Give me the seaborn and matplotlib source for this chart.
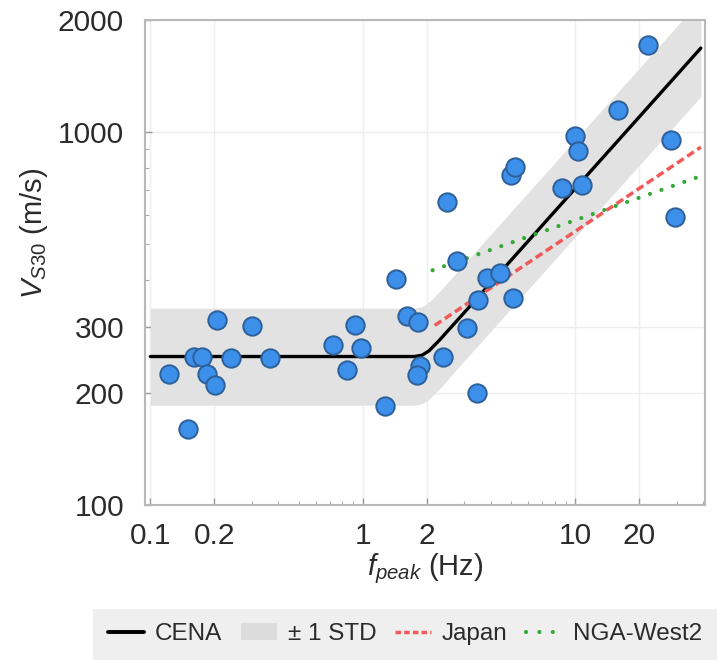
import numpy as np
import pandas as pd
import matplotlib
matplotlib.use("Agg")
import matplotlib.pyplot as plt
import seaborn as sns
from matplotlib.lines import Line2D
from matplotlib.patches import Patch

# =========================
# Data
# =========================

# site points: f_peak (Hz) and VS30 (m/s)
f_peak = [0.122, 0.150, 0.160, 0.175, 0.184, 0.201, 0.206, 0.239, 0.300, 0.365,
          0.723, 0.841, 0.917, 0.979, 1.27, 1.43, 1.61, 1.82, 1.85, 1.80,
          2.38, 2.48, 2.77, 3.09, 3.44, 3.48, 3.83, 4.42, 5.08, 4.97,
          5.19, 8.63, 9.95, 10.3, 10.8, 15.9, 21.9, 28.1, 29.4]
vs30 = [225, 160, 250, 250, 225, 210, 314, 248, 301, 248,
        269, 230, 303, 264, 184, 403, 322, 310, 236, 223,
        250, 651, 451, 299, 200, 354, 406, 418, 358, 765,
        804, 710, 975, 889, 723, 1147, 1708, 951, 593]

# CENA model (flat, then rising) and +/- 1 STD band
cena_f = [0.1, 1.75, 1.9, 2.05, 2.3, 2.86, 39.0]
cena_v = [250, 250, 252, 259, 277, 318, 1680]
std_lo = [185, 185, 187, 192, 205, 236, 1245]
std_hi = [337, 337, 340, 350, 374, 429, 2270]

# Japan and NGA-West2 relations
japan_f = [2.18, 39.0]
japan_v = [303, 911]
nga_f = [2.13, 38.0]
nga_v = [426, 758]

x_ticks = [0.1, 0.2, 1, 2, 10, 20]
x_ticklabels = ['0.1', '0.2', '1', '2', '10', '20']
y_ticks = [100, 200, 300, 1000, 2000]
y_ticklabels = ['100', '200', '300', '1000', '2000']

# =========================
# Plot
# =========================

sns.set_style("white")
plt.rcParams['font.family'] = ['Liberation Sans', 'DejaVu Sans']
plt.rcParams['mathtext.fontset'] = 'custom'
plt.rcParams['mathtext.rm'] = 'Liberation Sans'
plt.rcParams['mathtext.it'] = 'Liberation Sans:italic'

TXT = '#2b2b2b'
RED = '#f05a58'
GREEN = '#34a836'

df_pts = pd.DataFrame({'f': f_peak, 'v': vs30})
df_cena = pd.DataFrame({'f': cena_f, 'v': cena_v, 'lo': std_lo, 'hi': std_hi})
df_japan = pd.DataFrame({'f': japan_f, 'v': japan_v})
df_nga = pd.DataFrame({'f': nga_f, 'v': nga_v})

fig = plt.figure(figsize=(7.17, 6.6), dpi=100)
ax = fig.add_axes([0.202, 0.235, 0.781, 0.735])

ax.set_xscale('log')
ax.set_yscale('log')

ax.fill_between(df_cena['f'], df_cena['lo'], df_cena['hi'],
                color='#e2e2e2', linewidth=0, zorder=1)
sns.lineplot(data=df_cena, x='f', y='v', ax=ax, color='black',
             linewidth=2.4, zorder=3)
sns.lineplot(data=df_japan, x='f', y='v', ax=ax, color=RED,
             linewidth=2.5, zorder=3)
ax.lines[-1].set_dashes([2.3, 1.2])
sns.lineplot(data=df_nga, x='f', y='v', ax=ax, color=GREEN,
             linewidth=3.0, zorder=3)
ax.lines[-1].set_linestyle((0, (0.01, 2.9)))
ax.lines[-1].set_dash_capstyle('round')
sns.scatterplot(data=df_pts, x='f', y='v', ax=ax, s=175, color='#3d90ea',
                edgecolor='#2d5f99', linewidth=1.4, zorder=4)

ax.set_xlim(0.0942, 40.7)
ax.set_ylim(100, 2000)
ax.set_xticks(x_ticks)
ax.set_xticklabels(x_ticklabels)
ax.set_yticks(y_ticks)
ax.set_yticklabels(y_ticklabels)
ax.yaxis.set_minor_formatter(matplotlib.ticker.NullFormatter())
ax.xaxis.set_minor_formatter(matplotlib.ticker.NullFormatter())

ax.grid(True, which='major', color='#eeeeee', linewidth=1.0, zorder=0)
ax.set_axisbelow(True)
for sp in ax.spines.values():
    sp.set_color('#b8b8b8')
    sp.set_linewidth(1.5)

ax.tick_params(axis='both', which='major', direction='in', length=5,
               width=1, color='#999999', labelsize=21.5, labelcolor=TXT,
               left=True, bottom=True)
ax.tick_params(axis='both', which='minor', direction='in', length=3,
               width=0.8, color='#aaaaaa', left=True, bottom=True)
ax.tick_params(axis='x', which='major', pad=12)
ax.tick_params(axis='y', which='major', pad=15)

ax.set_xlabel(r'$f_{peak}$ (Hz)', fontsize=21, color=TXT)
ax.set_ylabel(r'$V_{S30}$ (m/s)', fontsize=21, color=TXT)
ax.xaxis.set_label_coords(0.5, -0.095)
ax.yaxis.set_label_coords(-0.17, 0.56)

handles = [
    Line2D([], [], color='black', linewidth=2.8),
    Patch(facecolor='#dcdcdc', edgecolor='none'),
    Line2D([], [], color=RED, linewidth=2.5, dashes=[1.6, 0.9]),
    Line2D([], [], color=GREEN, linewidth=3.0, linestyle=(0, (0.01, 3.2)),
           dash_capstyle='round'),
]
labels = ['CENA', '± 1 STD', 'Japan', 'NGA-West2']
leg = fig.legend(handles, labels, loc='lower left', ncol=4,
                 bbox_to_anchor=(0.13, 0.0, 0.87, 0.077), mode='expand',
                 borderaxespad=0, fontsize=17.5, handlelength=1.5,
                 handletextpad=0.45, columnspacing=1.0, borderpad=0.6,
                 fancybox=False, frameon=True, labelcolor=TXT)
leg.get_frame().set_facecolor('#ececec')
leg.get_frame().set_edgecolor('none')

fig.savefig('out.png', dpi=100)
plt.close(fig)
